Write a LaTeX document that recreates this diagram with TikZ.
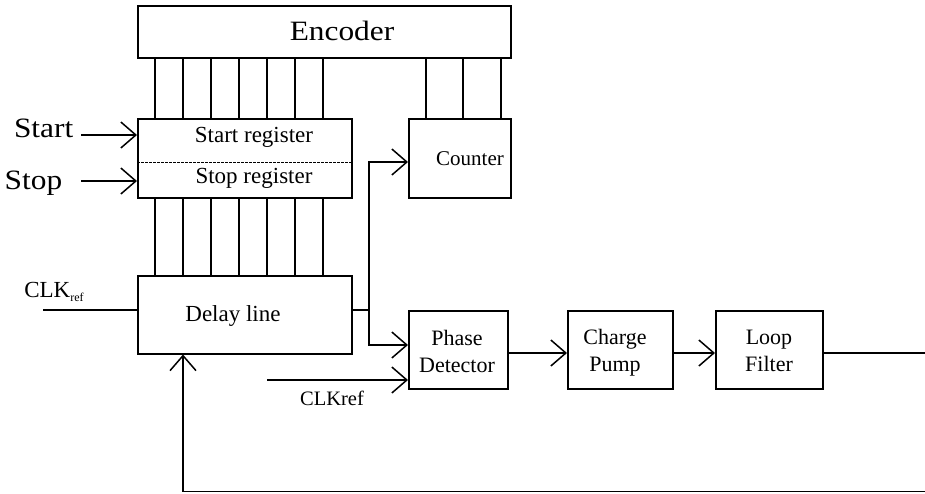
\documentclass[tikz,border=0pt]{standalone}
\usepackage{fontspec}
\setmainfont{Liberation Serif}
\usetikzlibrary{arrows.meta,calc}
\newcommand{\fsz}[2]{\fontsize{#1}{#2}\selectfont}
\begin{document}
\begin{tikzpicture}[x=1pt,y=-1pt,line width=1.5pt,
  box/.style={draw,line width=1.5pt,inner sep=0pt,anchor=north west},
  arr/.style={-{Straight Barb[length=15pt,width=26pt,line width=1.5pt]}},
  lbl/.style={inner sep=0pt,align=center},
  big/.style={font=\fontsize{28}{32}\selectfont},
  mid/.style={font=\fontsize{23}{27}\selectfont}]
\useasboundingbox (0,0) rectangle (925,493);
% boxes
\node[box,minimum width=373pt,minimum height=52pt] (enc) at (137,5) {};
\node[box,minimum width=214pt,minimum height=79pt] (reg) at (137,118) {};
\node[box,minimum width=102pt,minimum height=79pt] (cnt) at (408,118) {};
\node[box,minimum width=214pt,minimum height=78pt] (dl) at (137,275) {};
\node[box,minimum width=99pt,minimum height=78pt] (pd) at (408,310) {};
\node[box,minimum width=105pt,minimum height=78pt] (cp) at (567,310) {};
\node[box,minimum width=107pt,minimum height=78pt] (lf) at (715,310) {};
% texts
\node[lbl,big] (enct) at (342,31) {\scalebox{1.12}[1]{Encoder}};
\node[lbl,mid] (regt1) at (254,137) {Start register};
\node[lbl,mid] (regt2) at (254,178) {Stop register};
\node[lbl,font=\fsz{21}{25}] (cntt) at (470,159) {Counter};
\node[lbl,mid] (dlt) at (233,316) {Delay line};
\node[lbl,font=\fsz{22}{26}] (pdt) at (457,351) {Phase\\[1pt]Detector};
\node[lbl,font=\fsz{22}{26}] (cpt) at (615,353) {Charge\\[1pt]Pump};
\node[lbl,font=\fsz{22}{26}] (lft) at (769,351) {Loop\\[1pt]Filter};
% register divider
\draw[line width=1pt,dash pattern=on 2.5pt off 1.5pt] ($(reg.west)+(0,4.5)$) -- ($(reg.east)+(0,4.5)$);
% bus lines
\foreach \x [count=\i] in {155,183,211,239,267,295,323}{
  \coordinate (b\i) at (\x,0);
  \draw (enc.south -| b\i) -- (reg.north -| b\i);
  \draw (reg.south -| b\i) -- (dl.north -| b\i);
}
\foreach \x [count=\i] in {426,463,501}{
  \coordinate (cb\i) at (\x,0);
  \draw (enc.south -| cb\i) -- (cnt.north -| cb\i);
}
% Start / Stop inputs
\node[lbl,big,anchor=east] (start) at (74,128) {\scalebox{1.12}[1]{Start}};
\node[lbl,big,anchor=east] (stop) at (63,183) {\scalebox{1.12}[1]{Stop}};
\coordinate (starti) at (81,135);
\coordinate (stopi) at (81,181);
\draw[arr] (starti) -- (reg.west |- starti);
\draw[arr] (stopi) -- (reg.west |- stopi);
% CLKref into delay line
\node[lbl,font=\fsz{23}{27}] (clk1) at (54,292) {CLK\raisebox{-0.35ex}{\fontsize{12}{12}\selectfont ref}};
\coordinate (clkin) at (43,310);
\draw (clkin) -- (dl.west |- clkin);
% delay line output
\coordinate (j) at (369,310);
\draw (dl.east |- j) -- (j);
\coordinate (cin) at (369,162);
\coordinate (pin) at (369,345);
\draw[arr] (j) -- (cin) -- (cnt.west |- cin);
\draw[arr] (j) -- (pin) -- (pd.west |- pin);
% CLKref into PD
\coordinate (clk2in) at (267,380);
\draw[arr] (clk2in) -- (pd.west |- clk2in);
\node[lbl,font=\fsz{20.5}{24}] (clk2) at (332,398) {CLKref};
% chain
\coordinate (chain) at (0,353);
\draw[arr] (pd.east |- chain) -- (cp.west |- chain);
\draw[arr] (cp.east |- chain) -- (lf.west |- chain);
\coordinate (out) at (925,353);
\draw (lf.east |- out) -- (out);
% feedback
\coordinate (fb) at (925,491.5);
\coordinate (fbx) at (183,0);
\draw[arr] (fb) -- (fb -| fbx) -- (dl.south -| fbx);
\end{tikzpicture}
\end{document}
